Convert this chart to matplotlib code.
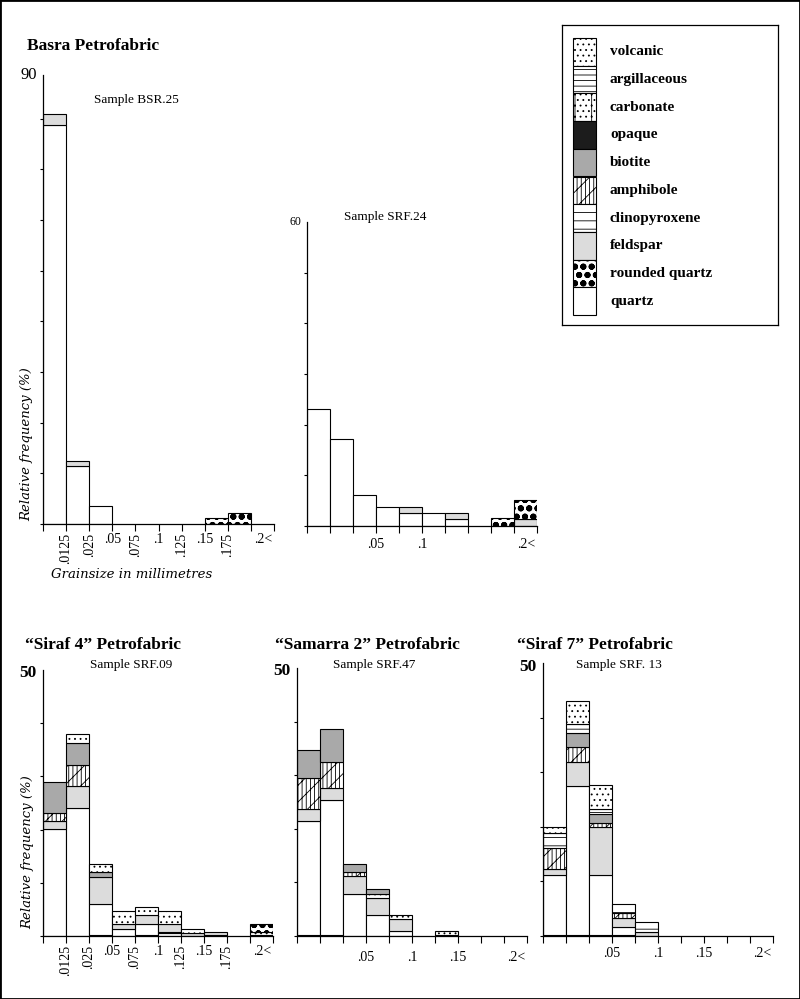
import numpy as np
import matplotlib.pyplot as plt
from matplotlib.patches import Rectangle
from matplotlib.transforms import blended_transform_factory, offset_copy

plt.rcParams['font.family'] = ['Liberation Serif', 'DejaVu Serif']
plt.rcParams['hatch.linewidth'] = 0.6

W, H = 800, 999

# ten grain-size classes, labels sit on the class edges
bins = np.arange(10)
edge_labels = ['.0125', '.025', '.05', '.075', '.1', '.125', '.15', '.175']
upright = ['.05', '.1', '.15']
last_label = '.2<'

# legend order, top to bottom
minerals = ['volcanic', 'argillaceous', 'carbonate', 'opaque', 'biotite',
            'amphibole', 'clinopyroxene', 'feldspar', 'rounded quartz', 'quartz']
colors = {'volcanic': 'white', 'argillaceous': 'white', 'carbonate': 'white',
          'opaque': '#1c1c1c', 'biotite': '#a9a9a9', 'amphibole': 'white',
          'clinopyroxene': 'white', 'feldspar': '#dcdcdc',
          'rounded quartz': 'white', 'quartz': 'white'}
hatches = {'volcanic': '...', 'argillaceous': '---', 'carbonate': '|...',
           'opaque': None, 'biotite': None, 'amphibole': '||||//',
           'clinopyroxene': '--', 'feldspar': None,
           'rounded quartz': 'oo', 'quartz': None}

# samples: layers stacked from the bottom, % per grain-size class
bsr25 = [
    ('quartz',         [78.7, 11.4, 3.5, 0, 0, 0, 0, 0, 0, 0]),
    ('feldspar',       [2.3, 1.1, 0, 0, 0, 0, 0, 0, 0, 0]),
    ('rounded quartz', [0, 0, 0, 0, 0, 0, 0, 1.2, 2.2, 0]),
]
srf24 = [
    ('quartz',         [23.0, 17.1, 6.1, 3.7, 2.5, 2.5, 1.3, 0, 0, 0]),
    ('feldspar',       [0, 0, 0, 0, 1.2, 0, 1.2, 0, 0, 1.3]),
    ('rounded quartz', [0, 0, 0, 0, 0, 0, 0, 0, 1.5, 3.8]),
]
srf09 = [
    ('opaque',         [0, 0, 0.25, 0, 0.2, 0, 0, 0.15, 0, 0.15]),
    ('quartz',         [20.05, 24.0, 5.85, 1.4, 2.1, 0.5, 0, 0, 0, 0]),
    ('opaque',         [0, 0, 0, 0, 0, 0.3, 0, 0, 0, 0]),
    ('feldspar',       [1.55, 4.2, 4.9, 0.9, 1.6, 1.5, 0.6, 0.6, 0, 0]),
    ('amphibole',      [1.6, 3.9, 0, 0, 0, 0, 0, 0, 0, 0]),
    ('biotite',        [5.7, 4.1, 1.0, 0, 0, 0, 0, 0, 0, 0]),
    ('volcanic',       [0, 1.8, 1.5, 2.4, 1.6, 2.4, 0.8, 0, 0, 0.6]),
    ('rounded quartz', [0, 0, 0, 0, 0, 0, 0, 0, 0, 1.5]),
]
srf47 = [
    ('opaque',         [0.2, 0.2, 0, 0, 0, 0, 0.2, 0, 0, 0]),
    ('quartz',         [21.3, 25.2, 7.8, 3.9, 0.9, 0, 0, 0, 0, 0]),
    ('feldspar',       [2.2, 2.3, 3.4, 3.1, 2.3, 0, 0, 0, 0, 0]),
    ('amphibole',      [5.8, 4.8, 0.7, 0, 0, 0, 0, 0, 0, 0]),
    ('volcanic',       [0, 0, 0, 0.8, 0.7, 0, 0.7, 0, 0, 0]),
    ('biotite',        [5.2, 6.2, 1.5, 1.0, 0, 0, 0, 0, 0, 0]),
]
srf13 = [
    ('opaque',         [0.2, 0.2, 0.2, 0.2, 0, 0, 0, 0, 0, 0]),
    ('quartz',         [10.9, 27.3, 11.0, 1.5, 0, 0, 0, 0, 0, 0]),
    ('feldspar',       [1.1, 4.3, 8.7, 1.6, 0.8, 0, 0, 0, 0, 0]),
    ('amphibole',      [4.0, 2.8, 0.8, 0.9, 0, 0, 0, 0, 0, 0]),
    ('biotite',        [0, 2.5, 1.6, 0, 0, 0, 0, 0, 0, 0]),
    ('clinopyroxene',  [2.6, 1.7, 0.9, 1.7, 1.7, 0, 0, 0, 0, 0]),
    ('volcanic',       [1.1, 4.3, 4.5, 0, 0, 0, 0, 0, 0, 0]),
]


def px_rect(x0, y0, x1, y1):
    return [x0 / W, 1 - y1 / H, (x1 - x0) / W, (y1 - y0) / H]


def fat_dots(bars):
    for b in bars:
        if hasattr(b, 'set_hatch_linewidth'):
            b.set_hatch_linewidth(2.0)


def draw_stack(ax, layers):
    bottom = np.zeros(len(bins))
    for name, vals in layers:
        vals = np.asarray(vals, float)
        m = vals > 0
        bars = ax.bar(bins[m], vals[m], width=1, bottom=bottom[m], align='edge',
                      color=colors[name], edgecolor='black', linewidth=0.8,
                      hatch=hatches[name])
        if name == 'rounded quartz':
            fat_dots(bars)
        bottom += vals


def setup(ax, top, top_label, lsize, lweight, shown, pad, label_drop):
    ax.set_xlim(0, 10)
    ax.set_ylim(0, top)
    ax.spines[['top', 'right']].set_visible(False)
    ax.spines[['left', 'bottom']].set_linewidth(0.9)
    ax.set_xticks(np.arange(11))
    ax.set_xticklabels([])
    ax.tick_params(axis='x', direction='out', length=5, width=0.8)
    ax.set_yticks(np.arange(0, top, 10))
    ax.set_yticklabels([])
    ax.tick_params(axis='y', direction='out', length=2.5, width=0.8)
    top_tr = offset_copy(ax.transAxes, fig=ax.figure, x=-6, y=-label_drop,
                         units='dots')
    ax.text(0, 1, top_label, transform=top_tr, ha='right',
            va='center', size=lsize, weight=lweight)
    base = blended_transform_factory(ax.transData, ax.transAxes)
    tr = offset_copy(base, fig=ax.figure, y=-pad, units='dots')
    for i, lab in enumerate(edge_labels, start=1):
        if lab not in shown:
            continue
        if lab in upright:
            ax.text(i, 0, lab, transform=tr, ha='center', va='top', size=10)
        else:
            ax.text(i, 0, lab, transform=tr, ha='center', va='top', size=10,
                    rotation=90)
    ax.text(9.55, 0, last_label, transform=tr, ha='center', va='top', size=10)


fig = plt.figure(figsize=(8, 9.99), dpi=100)

all_labels = edge_labels
few_labels = ['.05', '.1']
some_labels = ['.05', '.1', '.15']

ax1 = fig.add_axes(px_rect(43, 75, 274, 524))
draw_stack(ax1, bsr25)
setup(ax1, 88.6, '90', 12, 'normal', all_labels, 9, 0)

ax2 = fig.add_axes(px_rect(307, 222, 537, 526))
draw_stack(ax2, srf24)
setup(ax2, 60, '60', 8.5, 'normal', few_labels, 12, 0)

ax3 = fig.add_axes(px_rect(43, 670, 273, 936))
draw_stack(ax3, srf09)
setup(ax3, 50, '50', 12.5, 'bold', all_labels, 9, 3)

ax4 = fig.add_axes(px_rect(297, 668, 527, 936))
draw_stack(ax4, srf47)
setup(ax4, 50, '50', 12.5, 'bold', some_labels, 15, 3)

ax5 = fig.add_axes(px_rect(543, 663, 773, 936))
draw_stack(ax5, srf13)
setup(ax5, 50, '50', 12.5, 'bold', some_labels, 11, 4)

# titles and sample names
for x, y, s in [(27, 46, 'Basra Petrofabric'), (25, 645, '\u201cSiraf 4\u201d Petrofabric'),
                (275, 645, '\u201cSamarra 2\u201d Petrofabric'),
                (517, 645, '\u201cSiraf 7\u201d Petrofabric')]:
    fig.text(x / W, 1 - y / H, s, ha='left', va='center', size=12.5, weight='bold')

for x, y, s in [(136, 100, 'Sample BSR.25'), (385, 217, 'Sample SRF.24'),
                (131, 665, 'Sample SRF.09'), (374, 665, 'Sample SRF.47'),
                (619, 665, 'Sample SRF. 13')]:
    fig.text(x / W, 1 - y / H, s, ha='center', va='center', size=9.5)

fig.text(27 / W, 1 - 444 / H, 'Relative frequency (%)', rotation=90, ha='center',
         va='center', size=9.5, style='italic', family='DejaVu Serif')
fig.text(28 / W, 1 - 852 / H, 'Relative frequency (%)', rotation=90, ha='center',
         va='center', size=9.5, style='italic', family='DejaVu Serif')
fig.text(132 / W, 1 - 574 / H, 'Grainsize in millimetres', ha='center',
         va='center', size=9.5, style='italic', family='DejaVu Serif')

# legend box
lax = fig.add_axes(px_rect(562, 25, 778, 325))
lax.set_xlim(0, 216)
lax.set_ylim(300, 0)
lax.set_xticks([])
lax.set_yticks([])
for sp in lax.spines.values():
    sp.set_linewidth(0.9)
row = 27.7
for i, name in enumerate(minerals):
    b = lax.bar(11, row, bottom=13 + row * i, width=23, align='edge',
                color=colors[name], edgecolor='black', linewidth=0.8,
                hatch=hatches[name])
    if name == 'rounded quartz':
        fat_dots(b)
    lax.text(48, 13 + row * (i + 0.5), name, va='center', size=11, weight='bold')

fig.patches.append(Rectangle((0, 0), 1, 1, transform=fig.transFigure, fill=False,
                             edgecolor='black', linewidth=2))

fig.savefig('out.png', dpi=100)
